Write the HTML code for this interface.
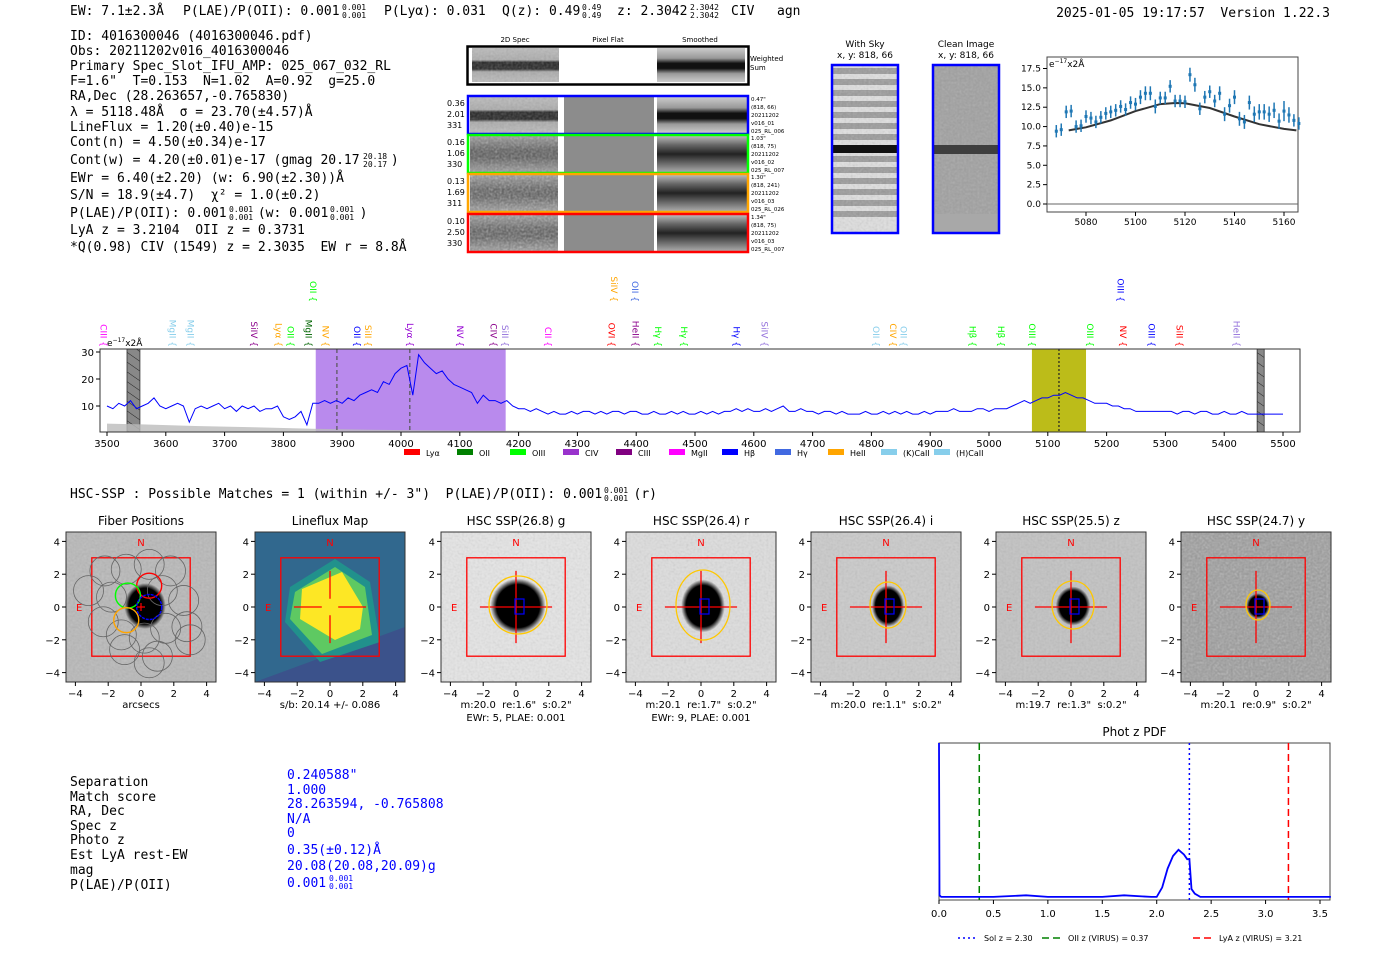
<!DOCTYPE html>
<html><head><meta charset="utf-8"><title>HETDEX detection 4016300046</title>
<style>
html,body{margin:0;padding:0;background:#fff;}
svg{display:block;}
text{white-space:pre;}
.mono{font-family:"DejaVu Sans Mono","Liberation Mono",monospace;}
.sans{font-family:"DejaVu Sans","Liberation Sans",sans-serif;}
</style></head>
<body>
<svg id="page" width="1400" height="953" viewBox="0 0 1400 953" xmlns="http://www.w3.org/2000/svg" xml:space="preserve">
<defs>
<filter id="noise" x="0" y="0" width="100%" height="100%">
<feTurbulence type="fractalNoise" baseFrequency="0.45" numOctaves="1" seed="3"/>
<feColorMatrix type="saturate" values="0"/>
</filter>
<pattern id="hatch" width="8" height="8" patternUnits="userSpaceOnUse" patternTransform="rotate(-55)">
<rect width="8" height="8" fill="#888"/><line x1="0" y1="0" x2="0" y2="8" stroke="#222" stroke-width="1"/>
</pattern>
<linearGradient id="bandDark" x1="0" y1="0" x2="0" y2="1">
<stop offset="0" stop-color="#bbb"/><stop offset="0.35" stop-color="#aaa"/><stop offset="0.42" stop-color="#222"/><stop offset="0.62" stop-color="#222"/><stop offset="0.7" stop-color="#aaa"/><stop offset="1" stop-color="#bbb"/>
</linearGradient>
<linearGradient id="bandSmooth" x1="0" y1="0" x2="0" y2="1">
<stop offset="0" stop-color="#ccc"/><stop offset="0.3" stop-color="#999"/><stop offset="0.45" stop-color="#111"/><stop offset="0.6" stop-color="#111"/><stop offset="0.75" stop-color="#999"/><stop offset="1" stop-color="#ccc"/>
</linearGradient>
<linearGradient id="bandNoisy" x1="0" y1="0" x2="0" y2="1">
<stop offset="0" stop-color="#999"/><stop offset="0.4" stop-color="#555"/><stop offset="0.6" stop-color="#555"/><stop offset="1" stop-color="#999"/>
</linearGradient>
<linearGradient id="bandSmooth2" x1="0" y1="0" x2="0" y2="1">
<stop offset="0" stop-color="#bbb"/><stop offset="0.25" stop-color="#666"/><stop offset="0.5" stop-color="#222"/><stop offset="0.75" stop-color="#666"/><stop offset="1" stop-color="#aaa"/>
</linearGradient>
<radialGradient id="blob"><stop offset="0" stop-color="#000"/><stop offset="0.78" stop-color="#000"/><stop offset="1" stop-color="#000" stop-opacity="0"/></radialGradient>
</defs>

<!-- Header -->
<g class="mono" font-size="13" fill="#000">
<text x="70" y="15">EW: 7.1±2.3Å</text>
<text x="183" y="15">P(LAE)/P(OII): 0.001</text>
<text x="342" y="10" font-size="8">0.001</text>
<text x="342" y="18" font-size="8">0.001</text>
<text x="384" y="15">P(Lyα): 0.031</text>
<text x="502" y="15">Q(z): 0.49</text>
<text x="582" y="10" font-size="8">0.49</text>
<text x="582" y="18" font-size="8">0.49</text>
<text x="617" y="15">z: 2.3042</text>
<text x="690" y="10" font-size="8">2.3042</text>
<text x="690" y="18" font-size="8">2.3042</text>
<text x="731" y="15">CIV</text>
<text x="777" y="15">agn</text>
<text x="1330" y="17" text-anchor="end">2025-01-05 19:17:57  Version 1.22.3</text>
</g>

<!-- Info block -->
<g class="mono" font-size="13" fill="#000">
<text x="70" y="40">ID: 4016300046 (4016300046.pdf)</text>
<text x="70" y="55">Obs: 20211202v016_4016300046</text>
<text x="70" y="70">Primary Spec_Slot_IFU_AMP: 025_067_032_RL</text>
<text x="70" y="85">F=1.6"  T=0.153  N=1.02  A=0.92  g=25.0</text>
<text x="70" y="100">RA,Dec (28.263657,-0.765830)</text>
<text x="70" y="116">λ = 5118.48Å  σ = 23.70(±4.57)Å</text>
<text x="70" y="131">LineFlux = 1.20(±0.40)e-15</text>
<text x="70" y="146">Cont(n) = 4.50(±0.34)e-17</text>
<text x="70" y="164">Cont(w) = 4.20(±0.01)e-17 (gmag 20.17    )</text>
<text x="363" y="159" font-size="8">20.18</text>
<text x="363" y="167" font-size="8">20.17</text>
<text x="70" y="182">EWr = 6.40(±2.20) (w: 6.90(±2.30))Å</text>
<text x="70" y="199">S/N = 18.9(±4.7)  χ² = 1.0(±0.2)</text>
<text x="70" y="217">P(LAE)/P(OII): 0.001    (w: 0.001    )</text>
<text x="229" y="212" font-size="8">0.001</text>
<text x="229" y="220" font-size="8">0.001</text>
<text x="330" y="212" font-size="8">0.001</text>
<text x="330" y="220" font-size="8">0.001</text>
<text x="70" y="234">LyA z = 3.2104  OII z = 0.3731</text>
<text x="70" y="251">*Q(0.98) CIV (1549) z = 2.3035  EW r = 8.8Å</text>
</g>

<!-- 2D spectra -->
<g class="sans">
<text x="515" y="42" font-size="7" text-anchor="middle">2D Spec</text>
<text x="608" y="42" font-size="7" text-anchor="middle">Pixel Flat</text>
<text x="700" y="42" font-size="7" text-anchor="middle">Smoothed</text>
<g>
<rect x="472" y="48" width="87" height="34" fill="url(#bandDark)"/>
<rect x="472" y="48" width="87" height="34" filter="url(#noise)" opacity="0.35"/>
<rect x="657" y="48" width="88" height="34" fill="url(#bandSmooth)"/>
<rect x="467.5" y="46.5" width="281" height="38" fill="none" stroke="#000" stroke-width="2.5"/>
<text x="750" y="61" font-size="7">Weighted</text>
<text x="750" y="70" font-size="7">Sum</text>
</g>
<g id="rows2d"></g>
</g>

<!-- With sky / clean -->
<g class="sans">
<text x="865" y="47" font-size="9" text-anchor="middle">With Sky</text>
<text x="865" y="58" font-size="9" text-anchor="middle">x, y: 818, 66</text>
<text x="966" y="47" font-size="9" text-anchor="middle">Clean Image</text>
<text x="966" y="58" font-size="9" text-anchor="middle">x, y: 818, 66</text>
<g id="withsky"></g>
<g>
<rect x="932" y="64" width="68" height="170" fill="#a0a0a0"/>
<rect x="932" y="64" width="68" height="150" filter="url(#noise)" opacity="0.3"/>
<rect x="932" y="214" width="68" height="20" fill="#a8a8a8"/>
<rect x="932" y="145" width="68" height="9" fill="#333" opacity="0.9"/>
<rect x="933" y="65" width="66" height="168" fill="none" stroke="#00f" stroke-width="2.5"/>
</g>
</g>

<g id="fitplot" class="sans"></g>
<g id="spectrum" class="sans"></g>

<text class="mono" x="70" y="498" font-size="13">HSC-SSP : Possible Matches = 1 (within +/- 3")  P(LAE)/P(OII): 0.001    (r)</text>
<text class="mono" x="604" y="493" font-size="8">0.001</text>
<text class="mono" x="604" y="501" font-size="8">0.001</text>

<g id="cutouts" class="sans"></g>

<g class="mono" font-size="13">
<text x="70" y="786">Separation</text>
<text x="70" y="801">Match score</text>
<text x="70" y="815">RA, Dec</text>
<text x="70" y="830">Spec z</text>
<text x="70" y="844">Photo z</text>
<text x="70" y="859">Est LyA rest-EW</text>
<text x="70" y="874">mag</text>
<text x="70" y="889">P(LAE)/P(OII)</text>
<g fill="#0000ff">
<text x="287" y="779">0.240588"</text>
<text x="287" y="794">1.000</text>
<text x="287" y="808">28.263594, -0.765808</text>
<text x="287" y="823">N/A</text>
<text x="287" y="837">0</text>
<text x="287" y="854">0.35(±0.12)Å</text>
<text x="287" y="870">20.08(20.08,20.09)g</text>
<text x="287" y="887">0.001</text>
<text x="329" y="881" font-size="8">0.001</text>
<text x="329" y="889" font-size="8">0.001</text>
</g>
</g>

<g id="pdfplot" class="sans"></g>
</svg>

<script>
// ===== Data =====
const specWaveStart = 3500, specWaveStep = 10;
const specFlux = [
10,9,11,10,12,9,10,11,13,10,
9,10,11,10,4,9,10,9,10,11,
9,10,8,10,9,10,8,9,9,10,
6,5,6,8,3,11,11,12,11,12,
11,13,12,14,15,16,15,19,18,22,
24,25,14,29,26,24,22,23,20,18,
17,16,15,11,14,12,12,11,12,10,
9,9,8,9,8,7,8,7,7,8,
7,8,8,7,8,7,8,8,7,8,
8,7,7,8,7,7,8,7,8,7,
7,8,7,8,7,8,8,9,8,9,
8,8,9,8,9,10,8,8,9,8,
8,7,8,8,7,8,7,7,7,8,
7,7,8,7,8,7,8,7,7,8,
7,8,8,8,9,8,8,8,9,9,
8,9,9,9,10,11,12,11,12,13,
13,14,14,15,14,13,13,12,11,11,
11,10,10,9,9,8,8,8,8,8,
8,8,7,8,8,7,8,8,7,7,
8,7,7,8,7,7,7,7,7,7,
7];
const skyWave = [3500,3560,3650,3750,3850,3950,4100,4300,4600,5000,5500];
const skyFlux = [3.5,3.2,2.6,2.1,1.6,1.2,0.9,0.7,0.6,0.5,0.4];
const specXTicks = [3500,3600,3700,3800,3900,4000,4100,4200,4300,4400,4500,4600,4700,4800,4900,5000,5100,5200,5300,5400,5500];
const specYTicks = [10,20,30];
const specBands = [[3855,4178,'#9b59e6',0.7],[5073,5165,'#b5b500',0.9]];
const specVLines = [[3891,'#555','4,3'],[4015,'#555','4,3'],[5119,'#222','2,2']];
const badBands = [[3534,3556],[5456,5468]];
const lineLabels = ['CIII','MgII','MgII','SiIV','Lyα','OII','MgII','NV','OII','SiII','Lyα','NV','CIV','SiII','CII','OVI','HeII','Hγ','Hγ','Hγ','SiIV','OII','CIV','OII','Hβ','Hβ','OIII','OIII','NV','OIII','SiII','HeII','OII','SiIV','OII','OIII'];
const lineWaves = [3494,3611,3642,3750,3792,3812,3843,3872,3925,3944,4015,4100,4157,4177,4250,4358,4399,4437,4481,4571,4618,4808,4837,4855,4972,5020,5073,5172,5228,5276,5324,5421,3850,4362,4398,5224];
const lineColors = ['#ff00ff','#87ceeb','#87ceeb','#8b008b','#ffa500','#00ff00','#006400','#ffa500','#0000ff','#ffa500','#9400d3','#9400d3','#8b008b','#9370db','#ff00ff','#ff0000','#8b008b','#00ff00','#00ff00','#0000ff','#9370db','#87ceeb','#ffa500','#87ceeb','#00ff00','#00ff00','#00ff00','#00ff00','#ff0000','#0000ff','#ff0000','#9370db','#00ff00','#ffa500','#4169e1','#0000ff'];
const lineRows = [0,0,0,0,0,0,0,0,0,0,0,0,0,0,0,0,0,0,0,0,0,0,0,0,0,0,0,0,0,0,0,0,1,1,1,1];
const legendNames = ['Lyα','OII','OIII','CIV','CIII','MgII','Hβ','Hγ','HeII','(K)CaII','(H)CaII'];
const legendColors = ['#ff0000','#008000','#00ff00','#9932cc','#800080','#ff00ff','#0000ff','#4169e1','#ffa500','#87ceeb','#87ceeb'];

const fitWave = [5068,5070,5072,5074,5076,5078,5080,5082,5084,5086,5088,5090,5092,5094,5096,5098,5100,5102,5104,5106,5108,5110,5112,5114,5116,5118,5120,5122,5124,5126,5128,5130,5132,5134,5136,5138,5140,5142,5144,5146,5148,5150,5152,5154,5156,5158,5160,5162,5164,5166];
const fitFlux = [9.4,9.6,11.9,12.0,10.0,10.1,11.3,11.1,10.6,11.2,11.7,11.9,12.1,12.6,12.2,13.1,12.9,13.8,14.3,14.3,12.6,13.7,13.7,15.2,13.3,13.3,13.2,16.7,15.4,12.3,13.8,14.5,13.3,14.3,11.6,12.7,13.8,11.0,10.6,13.1,11.6,11.9,11.9,11.6,12.1,10.7,12.0,11.5,10.8,10.4];
const fitErr = [0.8,0.8,0.8,0.8,0.8,0.8,0.8,0.8,0.8,0.8,0.8,0.8,0.8,0.8,0.8,0.8,0.8,0.9,0.9,0.9,0.9,0.8,0.8,0.8,0.8,0.8,0.8,0.9,0.9,0.8,0.8,0.8,0.8,0.9,0.9,0.9,0.9,0.9,0.9,0.9,1.0,1.0,1.0,1.0,1.0,1.0,1.3,1.0,0.8,0.8];
const modelWave = [5073,5080,5090,5100,5110,5116,5120,5130,5140,5150,5160,5165];
const modelFlux = [9.5,9.9,10.8,12.0,12.9,13.05,13.0,12.4,11.3,10.3,9.7,9.5];
const fitXTicks = [5080,5100,5120,5140,5160];
const fitYTicks = [0.0,2.5,5.0,7.5,10.0,12.5,15.0,17.5];

const pdfZ = [0,0.005,0.02,0.5,0.8,1.0,1.5,1.7,1.95,2.0,2.05,2.1,2.15,2.2,2.25,2.28,2.3,2.32,2.35,2.4,2.6,3.0,3.6];
const pdfP = [1.0,0.03,0.02,0.02,0.03,0.02,0.02,0.03,0.02,0.02,0.08,0.2,0.28,0.32,0.29,0.26,0.26,0.07,0.04,0.02,0.02,0.02,0.02];
const pdfXTicks = [0.0,0.5,1.0,1.5,2.0,2.5,3.0,3.5];
const pdfLines = [[2.30,'#0000ff','2,3','Sol z = 2.30'],[0.37,'#008000','7,4','OII z (VIRUS) = 0.37'],[3.21,'#ff0000','7,4','LyA z (VIRUS) = 3.21']];

const skyStripeCount = 14;

// ===== Helpers =====
const NS = 'http://www.w3.org/2000/svg';
function mk(tag, attrs, parent){
  const e = document.createElementNS(NS, tag);
  for (const k in attrs) e.setAttribute(k, attrs[k]);
  if (parent) parent.appendChild(e);
  return e;
}

// ===== 2D spectra rows =====
(function(){
  const g = document.getElementById('rows2d');
  const rows = [
    {y:95,c:'#0000ff',l:['0.36','2.01','331'],r:['0.47"','(818, 66)','20211202','v016_01','025_RL_006'],fill:'url(#bandDark)',sm:'url(#bandSmooth)',nz:0.35},
    {y:134,c:'#00ff00',l:['0.16','1.06','330'],r:['1.03"','(818, 75)','20211202','v016_02','025_RL_007'],fill:'url(#bandNoisy)',sm:'url(#bandSmooth2)',nz:0.6},
    {y:173,c:'#ffa500',l:['0.13','1.69','311'],r:['1.30"','(818, 241)','20211202','v016_03','025_RL_026'],fill:'url(#bandNoisy)',sm:'url(#bandSmooth2)',nz:0.7},
    {y:213,c:'#ff0000',l:['0.10','2.50','330'],r:['1.34"','(818, 75)','20211202','v016_03','025_RL_007'],fill:'url(#bandNoisy)',sm:'url(#bandSmooth2)',nz:0.7}
  ];
  rows.forEach((r,i)=>{
    const rg = mk('g',{},g);
    
    
    mk('rect',{x:470,y:r.y+2,width:88,height:36,fill:r.fill},rg);
    mk('rect',{x:470,y:r.y+2,width:88,height:36,filter:'url(#noise)',opacity:r.nz},rg);
    mk('rect',{x:564,y:r.y+2,width:90,height:36,fill:'#8c8c8c'},rg);
    mk('rect',{x:657,y:r.y+2,width:90,height:36,fill:r.sm},rg);
    mk('rect',{x:468,y:r.y+1,width:280,height:38,fill:'none',stroke:r.c,'stroke-width':2.5},rg);
    r.l.forEach((t,j)=>{ const tx = mk('text',{x:447,y:r.y+11+j*11,'font-size':8},rg); tx.textContent=t;
      
       });
    r.r.forEach((t,j)=>{ const tx = mk('text',{x:751,y:r.y+6+j*8,'font-size':5.5},rg); tx.textContent=t;
      
       });
  });
})();

// ===== With sky stripes =====
(function(){
  const g = document.getElementById('withsky');
  mk('rect',{x:831,y:64,width:68,height:170,fill:'#e0e0e0'},g);
  for(let i=0;i<skyStripeCount;i++){
    const s = mk('rect',{x:831,y:68+i*11,width:68,height:6,fill:'#999'},g);
    
    
  }
  mk('rect',{x:831,y:64,width:68,height:170,filter:'url(#noise)',opacity:0.35},g);
  mk('rect',{x:831,y:145,width:68,height:8,fill:'#111'},g);
  mk('rect',{x:832,y:65,width:66,height:168,fill:'none',stroke:'#00f','stroke-width':2.5},g);
})();

// ===== Fit plot =====
(function(){
  const g = document.getElementById('fitplot');
  const L=1047,R=1298,T=57,B=212;
  const x = w => 1086 + (w-5080)*(1284-1086)/80;
  const y = v => 204 - v*(204-68.5)/17.5;
  mk('rect',{x:L,y:T,width:R-L,height:B-T,fill:'#fff',stroke:'#444','stroke-width':1},g);
  mk('line',{x1:L,x2:R,y1:y(0),y2:y(0),stroke:'#666','stroke-width':1},g);
  fitXTicks.forEach(t=>{
    mk('line',{x1:x(t),x2:x(t),y1:B,y2:B+4,stroke:'#000'},g);
    const tx=mk('text',{x:x(t),y:B+13,'font-size':9,'text-anchor':'middle'},g); tx.textContent=t;
    
    
  });
  fitYTicks.forEach(t=>{
    mk('line',{x1:L-4,x2:L,y1:y(t),y2:y(t),stroke:'#000'},g);
    const tx=mk('text',{x:L-6,y:y(t)+3,'font-size':9,'text-anchor':'end'},g); tx.textContent=t.toFixed(1);
    
    
  });
  const u=mk('text',{x:L+2,y:T+10,'font-size':9},g);
  u.innerHTML='e<tspan dy="-4" font-size="6">−17</tspan><tspan dy="4">x2Å</tspan>';
  
  
  const md = modelWave.map((w,i)=>(i?'L':'M')+x(w).toFixed(1)+' '+y(modelFlux[i]).toFixed(1)).join(' ');
  const mp=mk('path',{d:md,fill:'none',stroke:'#333','stroke-width':2},g);
  
  
  fitWave.forEach((w,i)=>{
    const eb=mk('line',{x1:x(w),x2:x(w),y1:y(fitFlux[i]-fitErr[i]),y2:y(fitFlux[i]+fitErr[i]),stroke:'#1f77b4','stroke-width':1.5},g);
    
    
    const p=mk('rect',{x:x(w)-1.5,y:y(fitFlux[i])-1.5,width:3,height:3,fill:'#1f77b4'},g);
    
    
  });
})();

// ===== Full spectrum =====
(function(){
  const g = document.getElementById('spectrum');
  const L=100,R=1300,T=349,B=432;
  const x = w => 107 + (w-3500)*(1283-107)/2000;
  const y = v => 433 - v*2.7;
  mk('rect',{x:L,y:T,width:R-L,height:B-T,fill:'#fff'},g);
  specBands.forEach(b=>{
    const r=mk('rect',{x:x(b[0]),y:T,width:x(b[1])-x(b[0]),height:B-T,fill:b[2],opacity:b[3]},g);
    
    
  });
  badBands.forEach(b=>{
    const r=mk('rect',{x:x(b[0]),y:T,width:x(b[1])-x(b[0]),height:B-T,fill:'url(#hatch)',stroke:'#333','stroke-width':0.8},g);
    
    
  });
  let sd='M'+x(skyWave[0])+' '+B;
  skyWave.forEach((w,i)=>{ sd+=' L'+x(w).toFixed(1)+' '+y(skyFlux[i]).toFixed(1); });
  sd+=' L'+x(skyWave[skyWave.length-1])+' '+B+' Z';
  const sk=mk('path',{d:sd,fill:'#bbb',opacity:0.8},g);
  
  
  specVLines.forEach(v=>{
    const l=mk('line',{x1:x(v[0]),x2:x(v[0]),y1:T,y2:B,stroke:v[1],'stroke-width':1.2,'stroke-dasharray':v[2]},g);
    
    
  });
  const d = specFlux.map((v,i)=>(i?'L':'M')+x(specWaveStart+i*specWaveStep).toFixed(1)+' '+y(v).toFixed(1)).join(' ');
  const sp=mk('path',{d:d,fill:'none',stroke:'#0000ff','stroke-width':1},g);
  
  
  mk('rect',{x:L,y:T,width:R-L,height:B-T,fill:'none',stroke:'#333','stroke-width':1},g);
  specXTicks.forEach(t=>{
    mk('line',{x1:x(t),x2:x(t),y1:B,y2:B+4,stroke:'#000'},g);
    const tx=mk('text',{x:x(t),y:B+15,'font-size':10,'text-anchor':'middle'},g); tx.textContent=t;
    
    
  });
  specYTicks.forEach(t=>{
    mk('line',{x1:L-4,x2:L,y1:y(t),y2:y(t),stroke:'#000'},g);
    const tx=mk('text',{x:L-6,y:y(t)+4,'font-size':10,'text-anchor':'end'},g); tx.textContent=t;
    
    
  });
  const u=mk('text',{x:L+7,y:T-3,'font-size':9},g);
  u.innerHTML='e<tspan dy="-4" font-size="6">−17</tspan><tspan dy="4">x2Å</tspan>';
  
  
  lineLabels.forEach((lab,i)=>{
    const yy = lineRows[i] ? 302 : 347;
    const tx=mk('text',{x:0,y:0,'font-size':9,fill:lineColors[i],'text-anchor':'end',transform:'translate('+(x(lineWaves[i])-3).toFixed(1)+','+yy+') rotate(90)'},g);
    tx.textContent=lab+' {';
    
    
  });
  legendNames.forEach((n,i)=>{
    const lx = 404 + i*53;
    const r=mk('rect',{x:lx,y:449,width:16,height:6,fill:legendColors[i]},g);
    
    
    const tx=mk('text',{x:lx+22,y:456,'font-size':8},g); tx.textContent=n;
    
    
  });
})();

// ===== Cutouts =====
(function(){
  const g = document.getElementById('cutouts');
  const titles = ['Fiber Positions','Lineflux Map','HSC SSP(26.8) g','HSC SSP(26.4) r','HSC SSP(26.4) i','HSC SSP(25.5) z','HSC SSP(24.7) y'];
  const lefts = [66,255,441,626,811,996,1181];
  const sub1 = ['arcsecs','s/b: 20.14 +/- 0.086','m:20.0  re:1.6"  s:0.2"','m:20.1  re:1.7"  s:0.2"','m:20.0  re:1.1"  s:0.2"','m:19.7  re:1.3"  s:0.2"','m:20.1  re:0.9"  s:0.2"'];
  const sub2 = ['','','EWr: 5, PLAE: 0.001','EWr: 9, PLAE: 0.001','','',''];
  const bgs = ['#b8b8b8','#31688e','#e6e6e6','#dedede','#cacaca','#c2c2c2','#9c9c9c'];
  const blobR = [[18,20],[0,0],[24,24],[19,23],[14,18],[15,17],[10,11]];
  const ringR = [[0,0],[0,0],[29,29],[27,35],[18,23],[21,24],[12,15]];
  const W=150,T=532,H=150,S=16.4;
  lefts.forEach((L,k)=>{
    const pg = mk('g',{},g);
    
    
    const cx=L+W/2, cy=T+H/2;
    mk('rect',{x:L,y:T,width:W,height:H,fill:bgs[k]},pg);
    if(k===1){
      mk('polygon',{points:[L,T+150,L+150,T+95,L+150,T+150].join(','),fill:'#3b528b'},pg);
      mk('polygon',{points:[(cx-40),(cy-20),(cx+5),(cy-48),(cx+40),(cy-25),(cx+50),(cy+35),(cx-10),(cy+55),(cx-45),(cy+15)].join(','),fill:'#21918c'},pg);
      mk('polygon',{points:[(cx-35),(cy-15),(cx+5),(cy-40),(cx+35),(cy-20),(cx+42),(cy+28),(cx-8),(cy+47),(cx-40),(cy+12)].join(','),fill:'#5ec962'},pg);
      mk('polygon',{points:[(cx-28),(cy-18),(cx+12),(cy-35),(cx+33),(cy+0),(cx+30),(cy+22),(cx+5),(cy+33),(cx-30),(cy+12)].join(','),fill:'#fde725'},pg);
    } else {
      mk('rect',{x:L,y:T,width:W,height:H,filter:'url(#noise)',opacity:k===6?0.55:0.3},pg);
      if(blobR[k][0]>0){
        const b=mk('ellipse',{cx:k===0?cx+4:cx+2,cy:cy-1,rx:blobR[k][0]*1.15,ry:blobR[k][1]*1.15,fill:'url(#blob)'},pg);
        
        
      }
    }
    mk('rect',{x:cx-3*S,y:cy-3*S,width:6*S,height:6*S,fill:'none',stroke:'#ff0000','stroke-width':1.3},pg);
    if(k===0){
      const fibers=[[-2.2,2.2],[-0.9,2.3],[0.5,2.6],[1.8,2.2],[-3.2,1.0],[-1.8,0.6],[2.6,0.4],[1.3,1.0],[-2.3,-0.9],[-1.2,-1.7],[0.2,-1.9],[1.5,-1.3],[2.8,-1.2],[-1.0,-2.6],[0.5,-3.4],[1.0,-3.0],[3.0,-2.0]];
      fibers.forEach(f=>{ const c=mk('circle',{cx:cx+f[0]*S,cy:cy-f[1]*S,r:15,fill:'none',stroke:'#666','stroke-width':0.8},pg);
        
         });
      [[0.5,1.3,'#ff0000'],[-0.8,0.7,'#00ff00'],[-0.9,-0.8,'#ffa500'],[0.5,0,'#0000ff']].forEach(f=>{
        const c=mk('circle',{cx:cx+f[0]*S,cy:cy-f[1]*S,r:12.5,fill:'none',stroke:f[2],'stroke-width':1.4,'stroke-dasharray':f[2]==='#0000ff'?'3,1':'none'},pg);
        
        
      });
      mk('path',{d:'M'+(cx-4)+' '+cy+'h8M'+cx+' '+(cy-4)+'v8',stroke:'#f00','stroke-width':1.2},pg);
    } else {
      const ch=mk('path',{d:'M'+(cx-2.2*S)+' '+cy+'H'+(cx-0.5*S)+'M'+(cx+0.5*S)+' '+cy+'H'+(cx+2.2*S)+'M'+cx+' '+(cy-2.2*S)+'V'+(cy-0.5*S)+'M'+cx+' '+(cy+0.5*S)+'V'+(cy+2.2*S),stroke:'#f00','stroke-width':1.3,fill:'none'},pg);
      if(k>1){ ch.setAttribute('d','M'+(cx-2.2*S)+' '+cy+'H'+(cx+2.2*S)+'M'+cx+' '+(cy-2.2*S)+'V'+(cy+2.2*S)); }
      
      
    }
    if(k>1){
      const ring=mk('ellipse',{cx:cx+2,cy:cy-2,rx:ringR[k][0],ry:ringR[k][1],fill:'none',stroke:'#ffc800','stroke-width':1.3},pg);
      
      
      const bx=mk('rect',{x:cx-1,y:cy-8,width:9,height:15,fill:'none',stroke:'#0000ff','stroke-width':1.2},pg);
      
      
    }
    const nt=mk('text',{x:cx,y:T+14,'font-size':10,fill:'#f00','text-anchor':'middle'},pg); nt.textContent='N';
    
    
    const et=mk('text',{x:L+10,y:cy+4,'font-size':10,fill:'#f00'},pg); et.textContent='E';
    
    
    mk('rect',{x:L,y:T,width:W,height:H,fill:'none',stroke:'#333','stroke-width':1},pg);
    const tt=mk('text',{x:cx,y:T-7,'font-size':12,'text-anchor':'middle'},pg); tt.textContent=titles[k];
    
    
    [-4,-2,0,2,4].forEach(v=>{
      mk('line',{x1:L-4,x2:L,y1:cy-v*S,y2:cy-v*S,stroke:'#000'},pg);
      const ty=mk('text',{x:L-6,y:cy-v*S+4,'font-size':10,'text-anchor':'end'},pg); ty.textContent=(v<0?'−':'')+Math.abs(v);
      
      
      mk('line',{x1:cx+v*S,x2:cx+v*S,y1:T+H,y2:T+H+4,stroke:'#000'},pg);
      const tx=mk('text',{x:cx+v*S,y:T+H+15,'font-size':10,'text-anchor':'middle'},pg); tx.textContent=(v<0?'−':'')+Math.abs(v);
      
      
    });
    const s1=mk('text',{x:cx,y:T+H+26,'font-size':10,'text-anchor':'middle'},pg); s1.textContent=sub1[k];
    
    
    if(sub2[k]){ const s2=mk('text',{x:cx,y:T+H+39,'font-size':10,'text-anchor':'middle'},pg); s2.textContent=sub2[k];
      
       }
  });
})();

// ===== Phot z PDF =====
(function(){
  const g = document.getElementById('pdfplot');
  const L=939,R=1330,T=743,B=900;
  const x = z => L + z*(1320-L)/3.5;
  const y = p => B - p*(B-T);
  mk('rect',{x:L,y:T,width:R-L,height:B-T,fill:'#fff',stroke:'#444','stroke-width':1},g);
  const tt=mk('text',{x:(L+R)/2,y:T-7,'font-size':12,'text-anchor':'middle'},g); tt.textContent='Phot z PDF';
  
  
  pdfXTicks.forEach(t=>{
    mk('line',{x1:x(t),x2:x(t),y1:B,y2:B+4,stroke:'#000'},g);
    const tx=mk('text',{x:x(t),y:B+17,'font-size':10,'text-anchor':'middle'},g); tx.textContent=t.toFixed(1);
    
    
  });
  pdfLines.forEach(l=>{
    const ln=mk('line',{x1:x(l[0]),x2:x(l[0]),y1:T,y2:B,stroke:l[1],'stroke-width':1.5,'stroke-dasharray':l[2]},g);
    
    
  });
  const d = pdfZ.map((z,i)=>(i?'L':'M')+x(z).toFixed(1)+' '+y(pdfP[i]).toFixed(1)).join(' ');
  const p=mk('path',{d:d,fill:'none',stroke:'#0000ff','stroke-width':1.8},g);
  
  
  const lx=[958,1042,1193];
  pdfLines.forEach((l,i)=>{
    const sw=mk('line',{x1:lx[i],x2:lx[i]+20,y1:938,y2:938,stroke:l[1],'stroke-width':1.5,'stroke-dasharray':l[2]},g);
    
    
    const tx=mk('text',{x:lx[i]+26,y:941,'font-size':8},g); tx.textContent=l[3];
    
    
  });
})();
</script>
</body></html>
